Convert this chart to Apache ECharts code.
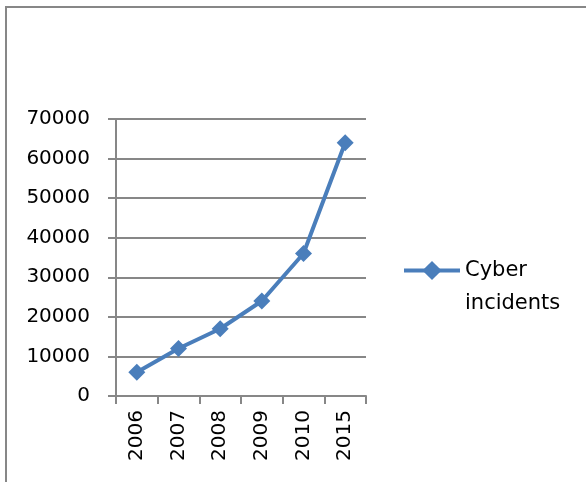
<!DOCTYPE html>
<html>
<head>
<meta charset="utf-8">
<script src="https://cdn.jsdelivr.net/npm/echarts@6/dist/echarts.min.js"></script>
<style>
  html, body { margin: 0; padding: 0; background: #fff; }
</style>
</head>
<body>
<div id="main" style="width: 586px;height: 482px;"></div>
<script>
// chart data
var years = ['2006', '2007', '2008', '2009', '2010', '2015'];
var incidents = [6000, 12000, 17000, 24000, 36000, 64000];
var seriesName = 'Cyber incidents';

var chartDom = document.getElementById('main');
var myChart = echarts.init(chartDom);
var option;

var gray = '#878787';
var blue = '#4A7EBB';

option = {
    animation: false,
    textStyle: { fontFamily: 'DejaVu Sans' },
    graphic: [
        {   // outer chart border (cropped at right and bottom)
            type: 'rect',
            shape: { x: 6, y: 7, width: 700, height: 600 },
            style: { fill: 'none', stroke: gray, lineWidth: 2 }
        }
    ],
    grid: {
        left: 116,
        right: 220,
        top: 119,
        bottom: 86
    },
    legend: {
        data: [seriesName],
        left: 397,
        top: 216,
        itemWidth: 56,
        itemHeight: 24,
        itemGap: 4,
        lineStyle: { width: 4, color: blue },
        itemStyle: { color: blue },
        // blank first line so that "Cyber" sits level with the marker
        formatter: function () { return ' \nCyber\nincidents'; },
        textStyle: {
            fontFamily: 'DejaVu Sans',
            fontSize: 21,
            color: '#000',
            lineHeight: 33
        }
    },
    xAxis: {
        type: 'category',
        data: years,
        boundaryGap: true,
        axisLine: { lineStyle: { color: gray, width: 2 } },
        axisTick: { show: true, length: 8, lineStyle: { color: gray, width: 2 } },
        axisLabel: {
            rotate: 90,
            margin: 14,
            fontSize: 20,
            color: '#000',
            fontFamily: 'DejaVu Sans'
        }
    },
    yAxis: {
        type: 'value',
        min: 0,
        max: 70000,
        interval: 10000,
        axisLine: { show: true, lineStyle: { color: gray, width: 2 } },
        axisTick: { show: true, length: 8, lineStyle: { color: gray, width: 2 } },
        splitLine: { lineStyle: { color: gray, width: 2 } },
        axisLabel: {
            margin: 26,
            fontSize: 20,
            color: '#000',
            fontFamily: 'DejaVu Sans',
            formatter: function (v) { return String(v); }
        }
    },
    series: [
        {
            name: seriesName,
            type: 'line',
            data: incidents,
            symbol: 'diamond',
            symbolSize: 17,
            lineStyle: { color: blue, width: 4 },
            itemStyle: { color: blue }
        }
    ]
};

option && myChart.setOption(option);
</script>
</body>
</html>
